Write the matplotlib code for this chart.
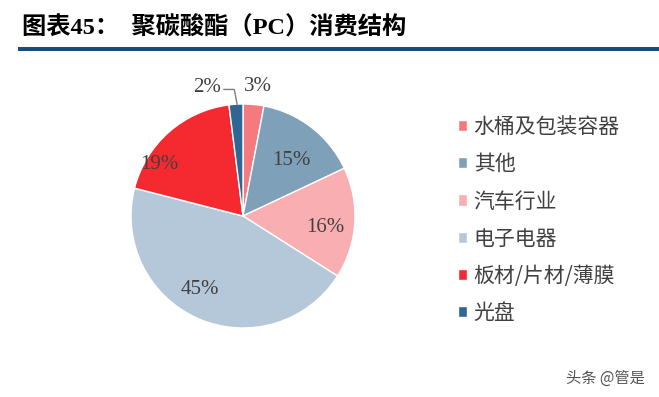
import numpy as np
import matplotlib
matplotlib.use('Agg')
import matplotlib.pyplot as plt
from matplotlib.patches import Rectangle

# data
categories = ['水桶及包装容器', '其他', '汽车行业', '电子电器', '板材/片材/薄膜', '光盘']
shares = [3, 15, 16, 45, 19, 2]
colors = ['#F47A7E', '#7FA0B9', '#F9AFB1', '#B4C8DA', '#F42A30', '#2F6693']
# label placement (radius factor, angle shift in degrees) per wedge
label_r = [1.16, 0.66, 0.74, 0.76, 0.88, 1.0]
label_shift = [-1.0, -3.5, -4.5, -7.0, 17.0, 0.0]

plt.rcParams['font.family'] = ['Noto Sans CJK SC', 'DejaVu Sans']

W, H = 659, 397
fig = plt.figure(figsize=(W / 100, H / 100), dpi=100, facecolor='white')

# title and rule
fig.text(22 / W, 1 - 28 / H, '图表45：  聚碳酸酯（PC）消费结构', fontsize=17.5, fontweight='bold',
         family=['Liberation Serif', 'Noto Sans CJK SC'], va='center', ha='left', color='black')
fig.patches.append(Rectangle((18 / W, 1 - 51 / H), 1 - 18 / W, 3.5 / H, transform=fig.transFigure,
                             facecolor='#114F82', edgecolor='none'))

# pie axes: centre (243,216) px, radius 112 px
cx, cy, r, lim = 243, 216, 112, 1.3
ax = fig.add_axes([(cx - lim * r) / W, (H - cy - lim * r) / H, 2 * lim * r / W, 2 * lim * r / H])
wedges, _ = ax.pie(shares, colors=colors, startangle=90, counterclock=False,
                   wedgeprops=dict(edgecolor='white', linewidth=1.0))
ax.set_xlim(-lim, lim)
ax.set_ylim(-lim, lim)
ax.set_aspect('equal')
ax.axis('off')

lab_font = dict(family=['Liberation Serif', 'DejaVu Serif'], fontsize=15, color='#404040')
for i, w in enumerate(wedges):
    mid = np.deg2rad((w.theta1 + w.theta2) / 2 + label_shift[i])
    txt = '%d%%' % shares[i]
    if i == len(wedges) - 1:
        # small slice: label pulled out with leader line
        ex, ey = np.cos(mid), np.sin(mid)
        ax.plot([ex + 0.01, ex - 0.015, -0.17], [ey, 1.13, 1.13], color='#7F7F7F', lw=1, clip_on=False)
        ax.text(-0.2, 1.15, txt, ha='right', va='center', **lab_font)
    else:
        ax.text(label_r[i] * np.cos(mid), label_r[i] * np.sin(mid), txt,
                ha='center', va='center', **lab_font)

leg = fig.legend(wedges, categories, loc='upper left', bbox_to_anchor=(458 / W, 1 - 116 / H),
                 frameon=False, fontsize=15, labelspacing=0.73, handlelength=0.45, handleheight=0.45,
                 handletextpad=0.3, borderpad=0, borderaxespad=0)
for t in leg.get_texts():
    t.set_color('#404040')

fig.text(645 / W, 1 - 378 / H, '头条 @管是', fontsize=11, color='#555555', ha='right', va='center')

fig.savefig('out.png', dpi=100, facecolor='white')
